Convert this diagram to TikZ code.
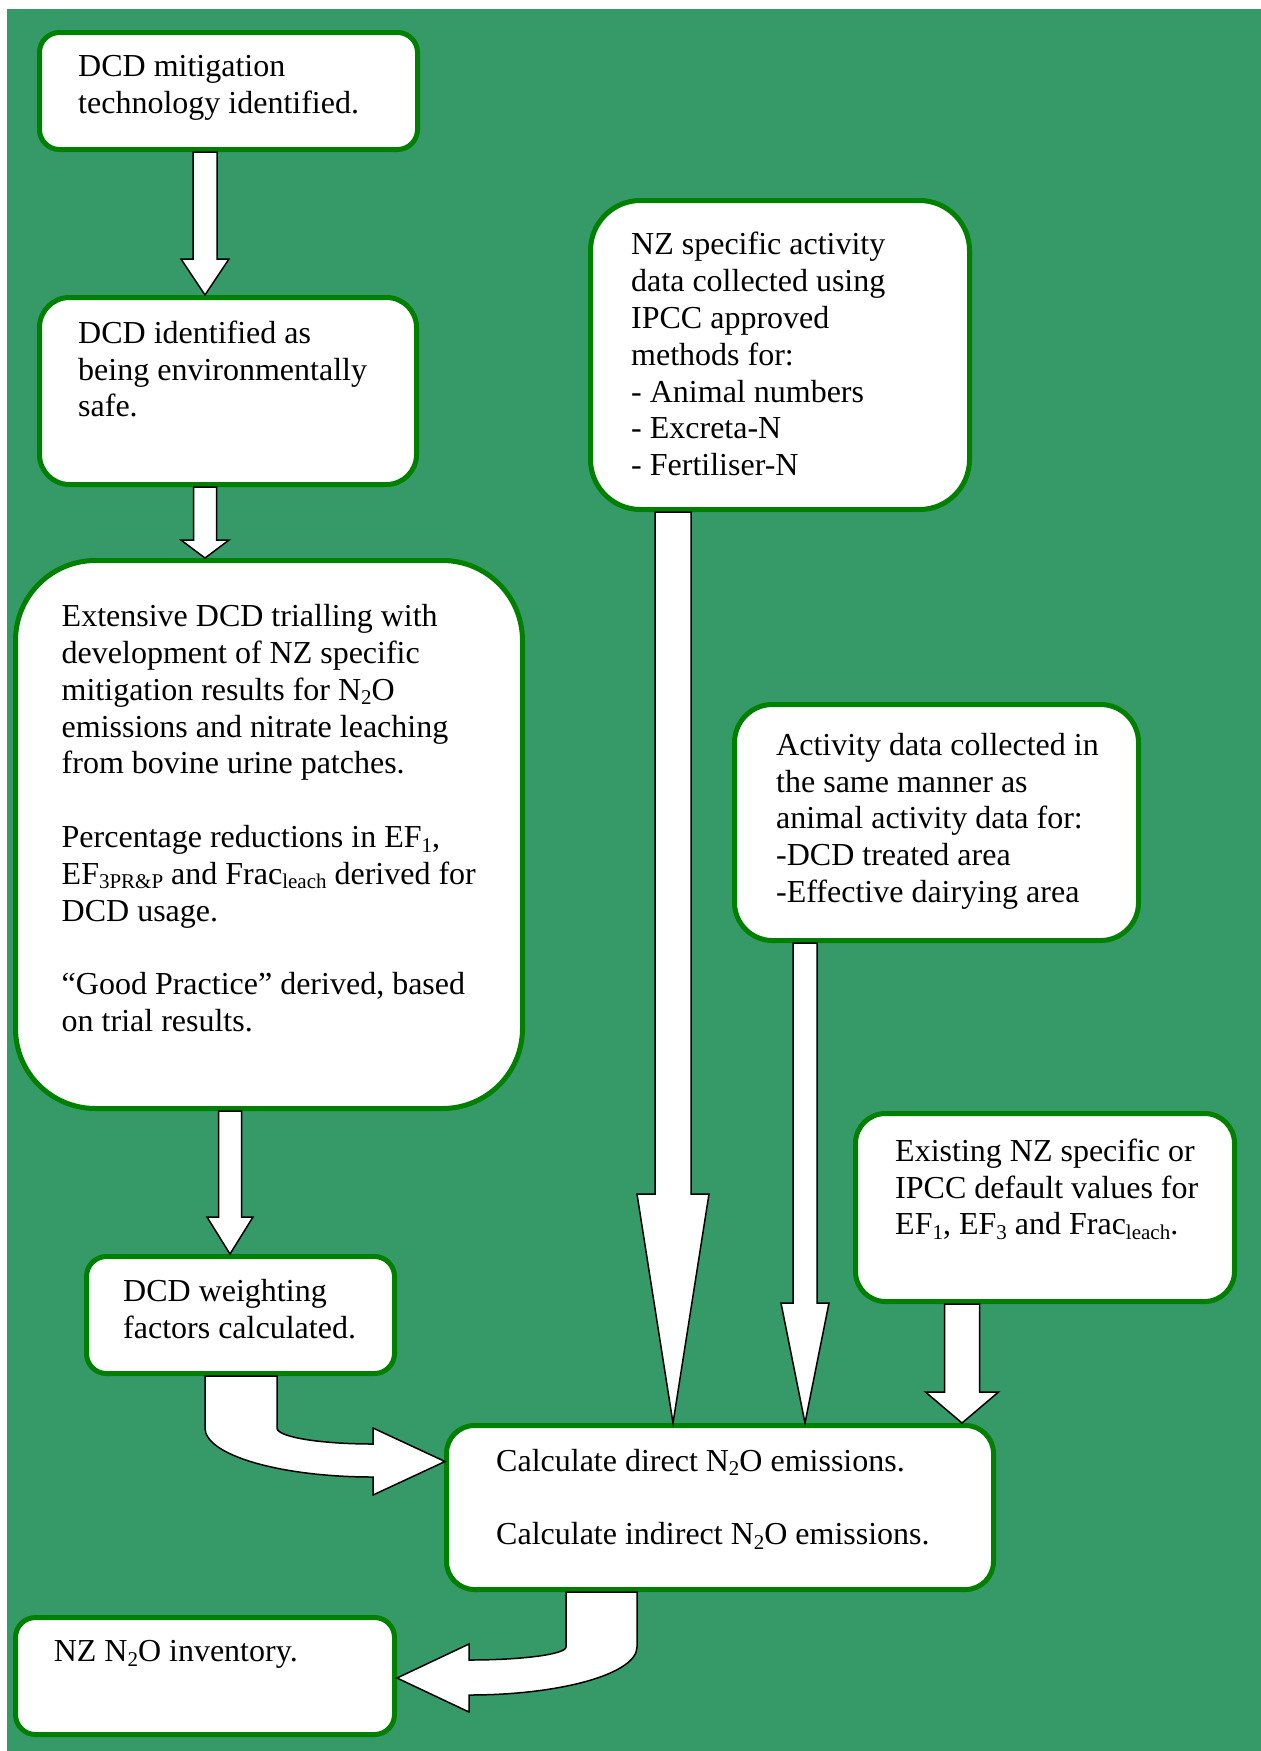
\documentclass[tikz,border=0pt]{standalone}
\usepackage{fontspec}
\setmainfont{Liberation Serif}
\usetikzlibrary{calc}
\definecolor{bggreen}{RGB}{54,153,104}
\definecolor{boxgreen}{RGB}{0,128,0}
\newcommand{\mysub}[1]{\raisebox{-4.5pt}{\fontsize{21}{21}\selectfont #1}}
\newcommand{\blockarr}[5]{%
  \coordinate (T) at (#2);
  \coordinate (S) at (#1 -| T);
  \draw[arrowshape] ($(S)+(-#3,0)$) -- ($(T)+(-#3,-#5)$) -- ($(T)+(-#4,-#5)$) -- (T)
     -- ($(T)+(#4,-#5)$) -- ($(T)+(#3,-#5)$) -- ($(S)+(#3,0)$) -- cycle;}
\begin{document}
\begin{tikzpicture}[x=1pt,y=-1pt,
  box/.style={draw=boxgreen, line width=5pt, fill=white, inner sep=0pt},
  txt/.style={anchor=north west, yshift=25.76pt, inner sep=0pt, align=left,
              font=\fontsize{32}{36.8}\selectfont},
  arrowshape/.style={draw=black, fill=white, line width=1.5pt, line join=miter}]
\useasboundingbox (0,0) rectangle (1261,1751);
\fill[white] (0,0) rectangle (1261,1751);
\fill[bggreen] (7,9) rectangle (1261,1751);

% boxes
\node[box, rounded corners=20pt, minimum width=378pt, minimum height=117pt] (b1) at (228.5,91) {};
\node[box, rounded corners=30pt, minimum width=377pt, minimum height=187pt] (b2) at (228,391) {};
\node[box, rounded corners=80pt, minimum width=507pt, minimum height=548pt] (b3) at (269,834.5) {};
\node[box, rounded corners=20pt, minimum width=308pt, minimum height=117pt] (b4) at (240.5,1315) {};
\node[box, rounded corners=50pt, minimum width=379pt, minimum height=309pt] (b5) at (780,355) {};
\node[box, rounded corners=38pt, minimum width=404pt, minimum height=236pt] (b6) at (936.5,822.5) {};
\node[box, rounded corners=30pt, minimum width=379pt, minimum height=188pt] (b7) at (1045,1207.5) {};
\node[box, rounded corners=28pt, minimum width=547pt, minimum height=164pt] (b8) at (720,1507.5) {};
\node[box, rounded corners=20pt, minimum width=379pt, minimum height=117pt] (b9) at (205,1676) {};

% texts
\node[txt] (t1) at (78,76.7) {\strut DCD mitigation\\technology identified.};
\node[txt] (t2) at (78,343) {\strut DCD identified as\\being environmentally\\safe.};
\node[txt] (t3) at (61.5,626.5) {\strut Extensive DCD trialling with\\development of NZ specific\\mitigation results for N\mysub{2}O\\emissions and nitrate leaching\\from bovine urine patches.\\[36.8pt]Percentage reductions in EF\mysub{1},\\EF\mysub{3PR\&P} and Frac\mysub{leach} derived for\\DCD usage.\\[36.8pt]“Good Practice” derived, based\\on trial results.};
\node[txt] (t4) at (123,1301) {\strut DCD weighting\\factors calculated.};
\node[txt] (t5) at (631,254.6) {\strut NZ specific activity\\data collected using\\IPCC approved\\methods for:\\- Animal numbers\\- Excreta-N\\- Fertiliser-N};
\node[txt] (t6) at (776,755) {\strut Activity data collected in\\the same manner as\\animal activity data for:\\-DCD treated area\\-Effective dairying area};
\node[txt] (t7) at (895,1161) {\strut Existing NZ specific or\\IPCC default values for\\EF\mysub{1}, EF\mysub{3} and Frac\mysub{leach}.};
\node[txt] (t8) at (496,1471) {\strut Calculate direct N\mysub{2}O emissions.\\[36.8pt]Calculate indirect N\mysub{2}O emissions.};
\node[txt] (t9) at (53.6,1661.5) {\strut NZ N\mysub{2}O inventory.};

% straight block arrows
\blockarr{b1.south}{$(b2.north)+(-23,0)$}{12}{24}{36}
\blockarr{b2.south}{$(b3.north)+(-64,0)$}{11.5}{24}{18}
\blockarr{b3.south}{$(b4.north)+(-10.5,0)$}{11.5}{23}{37}
\blockarr{b5.south}{$(b8.north)+(-47,0)$}{18}{36}{229}
\blockarr{b6.south}{$(b8.north)+(85,0)$}{12}{24}{120}
\blockarr{b7.south}{$(b8.north)+(242,0)$}{17.5}{36.5}{31}

% bent arrow b4 -> b8
\begin{scope}[shift={(b4.south west)}]
\draw[arrowshape] (121,0) -- (121,52) .. controls (121,79) and (196,101) .. (289,101)
  -- (289,119) -- (361,85.5) -- (289,52) -- (289,68)
  .. controls (236,68) and (193,61) .. (193,52) -- (193,0) -- cycle;
\end{scope}

% bent arrow b8 -> b9
\begin{scope}[shift={(b8.south west)}]
\draw[arrowshape] (122,0) -- (122,55) .. controls (122,62.2) and (78.6,68) .. (25,68)
  -- (25,52) -- (-47,86) -- (25,120) -- (25,103)
  .. controls (117.8,103) and (193,81.5) .. (193,55) -- (193,0) -- cycle;
\end{scope}
\end{tikzpicture}
\end{document}
